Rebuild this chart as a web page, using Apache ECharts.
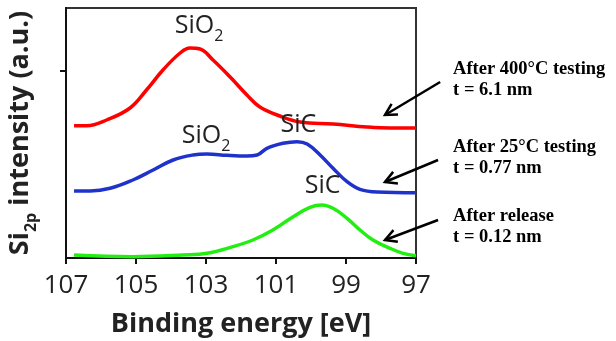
<!DOCTYPE html>
<html><head><meta charset="utf-8">
<script src="https://cdn.jsdelivr.net/npm/echarts@6/dist/echarts.min.js"></script>
<style>html,body{margin:0;padding:0;background:#fff}#c{width:616px;height:341px}</style>
</head><body><div id="c"></div>
<script>
// Binding energy (eV) and Si2p intensity (a.u.)
const redE   = [106.77,106.41,105.84,105.17,104.70,104.23,103.74,103.46,103.17,102.80,102.31,101.83,101.46,100.89,100.31,99.37,98.40,97.74,97.00];
const redV   = [2.117,2.117,2.208,2.400,2.688,3.008,3.280,3.360,3.344,3.168,2.896,2.608,2.416,2.272,2.176,2.144,2.096,2.080,2.080];
const blueE  = [106.77,106.31,105.74,105.09,104.51,103.94,103.37,102.97,102.40,101.83,101.54,101.26,100.80,100.40,100.11,99.74,99.37,98.97,98.60,98.11,97.00];
const blueV  = [1.072,1.072,1.115,1.248,1.408,1.568,1.648,1.664,1.643,1.632,1.648,1.755,1.835,1.861,1.824,1.648,1.435,1.221,1.099,1.056,1.045];
const greenE = [106.77,105.09,103.66,102.97,102.23,101.66,101.09,100.51,100.03,99.69,99.37,98.97,98.60,98.23,97.74,97.37,97.00];
const greenV = [0.048,0.021,0.048,0.075,0.181,0.288,0.448,0.661,0.811,0.848,0.795,0.635,0.448,0.288,0.155,0.075,0.037];
const xTicks = [107,105,103,101,99,97];
const yTicks = [3];
// peak labels: [E, intensity]
const redPeakLabel   = [103.2, 3.66];
const bluePeakLabels = [[103.0, 1.90], [100.36, 2.09]];
const greenPeakLabel = [99.67, 1.10];
// annotations: arrow [fromE, fromV, toE, toV]; text anchor [E, V]; text lines
const arrows = [[96.31, 2.816, 97.886, 2.288], [96.37, 1.568, 97.886, 1.216], [96.37, 0.608, 97.886, 0.288]];
const noteAnchors = [[95.94, 3.024], [95.94, 1.776], [95.94, 0.672]];
const notes = [["After 400°C testing","t = 6.1 nm"],["After 25°C testing","t = 0.77 nm"],["After release","t = 0.12 nm"]];

const zip = (a,b)=>a.map((v,i)=>[v,b[i]]);
const sans = 'Open Sans';
const rich = {
  m:{fontFamily:sans,fontSize:25,color:'#222',lineHeight:31,verticalAlign:'top'},
  s:{fontFamily:sans,fontSize:16,color:'#222',lineHeight:31,verticalAlign:'bottom'}
};
function mp(coord, txt){
  return {coord:coord, symbol:'circle', symbolSize:0, itemStyle:{color:'rgba(0,0,0,0)'},
    label:{show:true, position:'inside', formatter:txt, rich:rich}};
}
const chart = echarts.init(document.getElementById('c'));
const option = {
  animation:false,
  grid:{left:66,right:200,top:8,bottom:83,show:true,borderColor:'#333',borderWidth:2,outerBoundsMode:'none',containLabel:false},
  xAxis:{type:'value',min:97,max:107,inverse:true,
    axisLine:{lineStyle:{color:'#111',width:2}},
    axisTick:{customValues:xTicks,length:6,lineStyle:{color:'#111',width:2}},
    axisLabel:{customValues:xTicks,fontFamily:sans,fontSize:26,color:'#222',margin:15},
    splitLine:{show:false},
    name:'Binding energy [eV]',nameLocation:'middle',nameGap:53,
    nameTextStyle:{fontFamily:sans,fontWeight:'bold',fontSize:27,color:'#222'}},
  yAxis:{type:'value',min:0,max:4,
    axisLine:{show:true,lineStyle:{color:'#111',width:2}},
    axisTick:{show:true,customValues:yTicks,length:6,lineStyle:{color:'#111',width:2}},
    axisLabel:{show:false},splitLine:{show:false},
    name:'{m|Si}{s|2p}{m| intensity (a.u.)}',nameLocation:'middle',nameGap:27,nameRotate:90,
    nameTextStyle:{rich:{
      m:{fontFamily:sans,fontWeight:'bold',fontSize:27,color:'#222',lineHeight:32,verticalAlign:'top'},
      s:{fontFamily:sans,fontWeight:'bold',fontSize:16,color:'#222',lineHeight:32,verticalAlign:'bottom'}}}},
  series:[
    {type:'line',data:zip(redE,redV),smooth:0.4,symbol:'none',lineStyle:{color:'#ff0000',width:3.5},clip:false,
      markPoint:{data:[mp(redPeakLabel,'{m|SiO}{s|2}')]}},
    {type:'line',data:zip(blueE,blueV),smooth:0.4,symbol:'none',lineStyle:{color:'#1f33cc',width:3.5},clip:false,
      markPoint:{data:[mp(bluePeakLabels[0],'{m|SiO}{s|2}'),mp(bluePeakLabels[1],'{m|SiC}')]}},
    {type:'line',data:zip(greenE,greenV),smooth:0.4,symbol:'none',lineStyle:{color:'#22ee11',width:3.5},clip:false,
      markPoint:{data:[mp(greenPeakLabel,'{m|SiC}')]}}
  ]
};
chart.setOption(option);

// annotations placed from data coordinates
const g = [];
arrows.forEach((a,i)=>{
  const p0 = chart.convertToPixel({gridIndex:0},[a[0],a[1]]);
  const p1 = chart.convertToPixel({gridIndex:0},[a[2],a[3]]);
  const ang = Math.atan2(p0[1]-p1[1], p0[0]-p1[0]);
  const L = 13, w = 0.5;
  g.push({type:'line',shape:{x1:p0[0],y1:p0[1],x2:p1[0],y2:p1[1]},style:{stroke:'#000',lineWidth:2.5},z:100});
  g.push({type:'polyline',shape:{points:[
      [p1[0]+L*Math.cos(ang+w), p1[1]+L*Math.sin(ang+w)],[p1[0],p1[1]],
      [p1[0]+L*Math.cos(ang-w), p1[1]+L*Math.sin(ang-w)]]},
    style:{stroke:'#000',lineWidth:2.5,fill:null},z:100});
  const t = chart.convertToPixel({gridIndex:0},noteAnchors[i]);
  g.push({type:'text',x:t[0],y:t[1],style:{text:notes[i][0],font:'bold 18.5px "Liberation Serif"',fill:'#000',verticalAlign:'middle'},z:100});
  g.push({type:'text',x:t[0],y:t[1]+21,style:{text:notes[i][1],font:'bold 18.5px "Liberation Serif"',fill:'#000',verticalAlign:'middle'},z:100});
});
chart.setOption({graphic:g});
</script></body></html>
